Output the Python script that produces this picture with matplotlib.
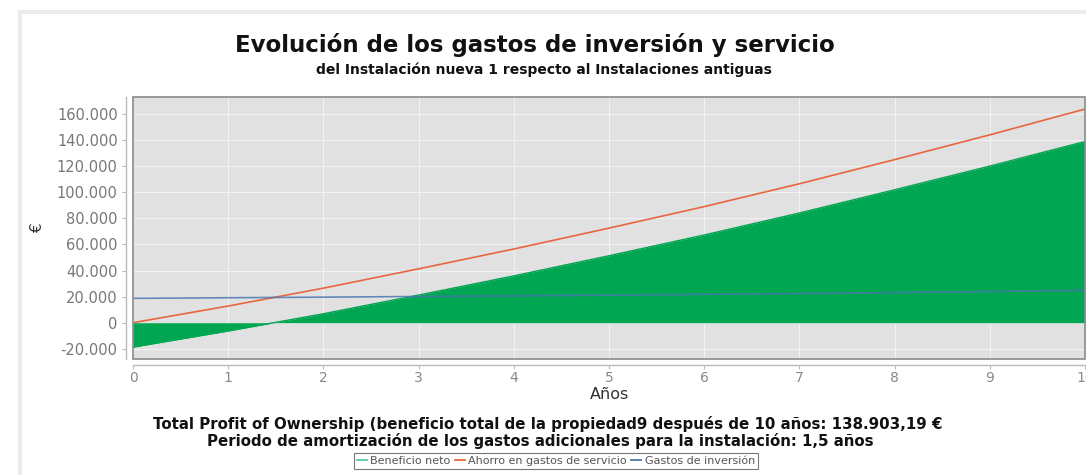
import matplotlib
matplotlib.use("Agg")
import matplotlib.pyplot as plt
from matplotlib.patches import Rectangle
from matplotlib.lines import Line2D
from matplotlib.ticker import FuncFormatter
import numpy as np

# ---- data ----
years = [0, 1, 2, 3, 4, 5, 6, 7, 8, 9, 10]
ahorro_servicio = [0, 12800, 26500, 41300, 56500, 72500, 89000, 106500, 125000, 144000, 163753]
gastos_inversion = [18700, 19150, 19600, 20100, 20600, 21150, 21750, 22400, 23100, 23950, 24850]
beneficio_neto = [a - g for a, g in zip(ahorro_servicio, gastos_inversion)]

title = "Evolución de los gastos de inversión y servicio"
subtitle = "del Instalación nueva 1 respecto al Instalaciones antiguas"
xlabel = "Años"
ylabel = "€"
note1 = "Total Profit of Ownership (beneficio total de la propiedad9 después de 10 años: 138.903,19 €"
note2 = "Periodo de amortización de los gastos adicionales para la instalación: 1,5 años"
legend_labels = ["Beneficio neto", "Ahorro en gastos de servicio", "Gastos de inversión"]
xticks = list(range(0, 11))
yticks = list(range(-20000, 160001, 20000))

W, H = 1086, 475
fig = plt.figure(figsize=(W / 100, H / 100), dpi=100)
fig.patch.set_facecolor("white")

# outer light frame (only top and left edges visible)
fig.patches.append(Rectangle((20 / W, -0.2), 1.2, 1.2 - 12 / H, transform=fig.transFigure,
                             fill=False, edgecolor="#ececec", lw=3))

L, R, T, B = 133, 1085, 97, 359
ax = fig.add_axes([L / W, (H - B) / H, (R - L) / W, (B - T) / H])
ax.set_facecolor("#e1e1e1")

green = "#00a651"
red = "#e8663f"
blue = "#4a78b0"
net_col = "#5cc9a0"

ax.fill_between(years, 0, beneficio_neto, color=green, lw=0, zorder=2)
ax.plot(years, beneficio_neto, color=green, lw=1.0, zorder=3)
ax.plot(years, ahorro_servicio, color=red, lw=1.2, zorder=4)
ax.plot(years, gastos_inversion, color=blue, lw=1.2, zorder=4, alpha=0.85)

ax.set_xlim(0, 10)
ax.set_ylim(-27800, 173000)
ax.set_xticks(xticks)
ax.set_yticks(yticks)
ax.yaxis.set_major_formatter(FuncFormatter(lambda v, p: f"{int(v):,}".replace(",", ".")))
ax.grid(True, color="#f2f2f2", lw=0.8, zorder=1)
ax.set_axisbelow(True)

for s in ["top", "right"]:
    ax.spines[s].set_visible(False)
ax.spines["left"].set_position(("outward", 5))
ax.spines["bottom"].set_position(("outward", 4))
for s in ["left", "bottom"]:
    ax.spines[s].set_color("#bbbbbb")
    ax.spines[s].set_linewidth(1.0)
ax.add_patch(Rectangle((0, 0), 1, 1, transform=ax.transAxes, fill=False,
                       edgecolor="#8a8a8a", lw=1.2, zorder=6, clip_on=False))
ax.tick_params(axis="y", colors="#bbbbbb", labelcolor="#777777", labelsize=10.5,
               length=3, width=0.8, direction="out", pad=3)
ax.tick_params(axis="x", colors="#bbbbbb", labelcolor="#888888", labelsize=10,
               length=3, width=0.8, direction="out", pad=2)

ax.set_xlabel(xlabel, fontsize=11.5, color="#333333", labelpad=1)
ax.set_ylabel(ylabel, fontsize=11, color="#333333", labelpad=-2)
ax.yaxis.set_label_coords((45 - L) / (R - L), 0.5)

cx = 535 / W
fig.text(cx, 1 - 45 / H, title, ha="center", va="center", fontsize=16.5, fontweight="bold",
         color="#111111")
fig.text(544 / W, 1 - 70 / H, subtitle, ha="center", va="center", fontsize=10, fontweight="bold",
         color="#111111")
fig.text(548 / W, 1 - 424 / H, note1, ha="center", va="center", fontsize=10.8,
         fontweight="bold", color="#111111")
fig.text(540 / W, 1 - 441 / H, note2, ha="center", va="center", fontsize=10.8,
         fontweight="bold", color="#111111")

handles = [Line2D([], [], color=net_col, lw=1.3),
           Line2D([], [], color=red, lw=1.3),
           Line2D([], [], color=blue, lw=1.3)]
leg = fig.legend(handles, legend_labels, loc="center", bbox_to_anchor=(556 / W, 1 - 461 / H),
                 ncol=3, fontsize=8.0, frameon=True, fancybox=False, edgecolor="#555555",
                 handlelength=0.9, handletextpad=0.3, columnspacing=0.4, borderpad=0.3,
                 borderaxespad=0)
leg.get_frame().set_linewidth(0.8)
for t in leg.get_texts():
    t.set_color("#555555")

fig.savefig("out.png", dpi=100)
